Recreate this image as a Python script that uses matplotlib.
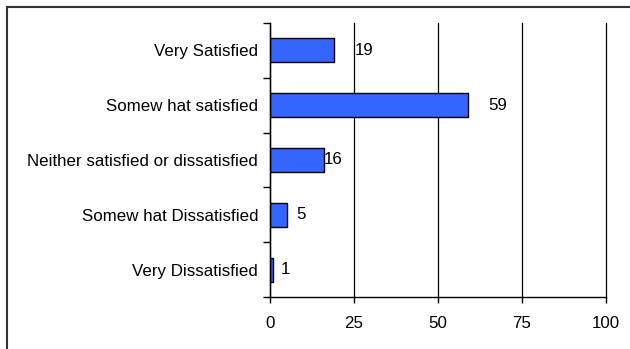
import matplotlib
matplotlib.use("Agg")
import matplotlib.pyplot as plt
from matplotlib.lines import Line2D
import numpy as np

categories = ["Very Satisfied", "Somew hat satisfied", "Neither satisfied or dissatisfied",
              "Somew hat Dissatisfied", "Very Dissatisfied"]
values = [19, 59, 16, 5, 1]
label_offsets_px = [21, 20, 0, 9, 7]
x_ticks = [0, 25, 50, 75, 100]

plt.rcParams["font.family"] = ["Liberation Sans", "DejaVu Sans"]
plt.rcParams["font.size"] = 12.2

fig = plt.figure(figsize=(6.30, 3.49), dpi=100)
ax = fig.add_axes([270 / 630, 1 - 297 / 349, 336 / 630, 274 / 349])

y = np.arange(len(categories))
ax.barh(y, values, height=0.44, color="#3366FF", edgecolor="black", linewidth=1.0, zorder=3)

ax.set_xlim(0, 100)
ax.set_ylim(len(categories) - 0.5, -0.5)
ax.set_xticks(x_ticks)
ax.set_xticklabels([str(t) for t in x_ticks])
ax.set_yticks(y)
ax.set_yticklabels(categories)
ax.tick_params(axis="y", which="major", length=0, pad=8.5)
ax.set_yticks(np.arange(len(categories) + 1) - 0.5, minor=True)
ax.tick_params(axis="y", which="minor", length=5, width=1, color="black")
ax.tick_params(axis="x", length=4, width=1, color="black", pad=10)

ax.xaxis.grid(True, color="black", linewidth=0.9, zorder=0)
for gl in ax.get_xgridlines():
    gl.set_clip_on(False)
for s in ["top", "right"]:
    ax.spines[s].set_visible(False)
for s in ["left", "bottom"]:
    ax.spines[s].set_color("black")
    ax.spines[s].set_linewidth(1.0)
    ax.spines[s].set_zorder(4)

for yi, v, off in zip(y, values, label_offsets_px):
    ax.annotate(str(v), xy=(v, yi), xytext=(off, 0), textcoords="offset pixels",
                ha="left", va="center", color="black")

# outer frame (top and left edges)
fig.add_artist(Line2D([7 / 630, 1], [1 - 7 / 349, 1 - 7 / 349], color="#333333", linewidth=1.5,
                      transform=fig.transFigure))
fig.add_artist(Line2D([7 / 630, 7 / 630], [0, 1 - 7 / 349], color="#333333", linewidth=1.5,
                      transform=fig.transFigure))

fig.savefig("out.png", dpi=100)
